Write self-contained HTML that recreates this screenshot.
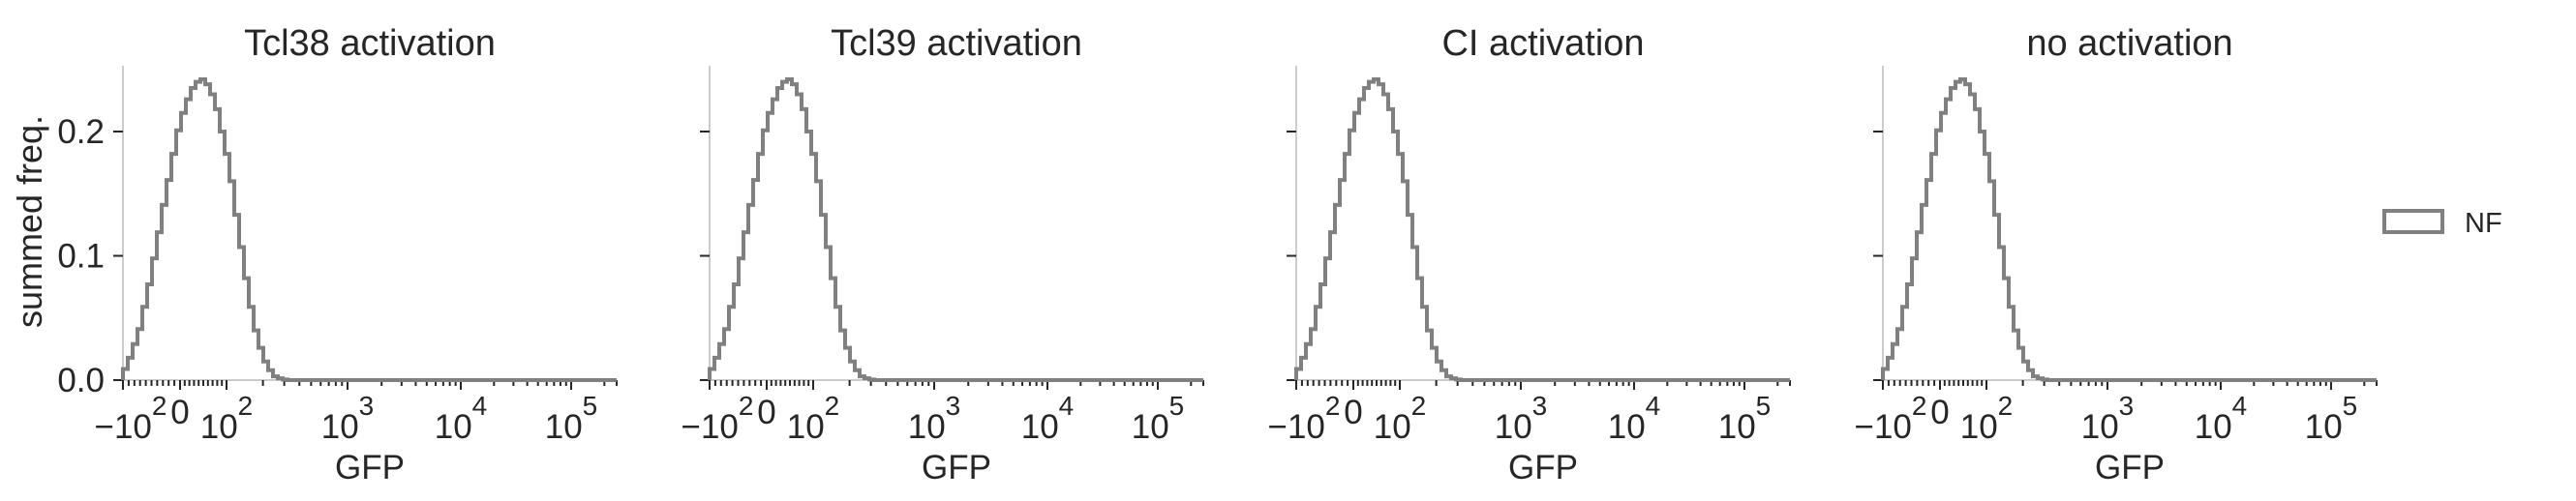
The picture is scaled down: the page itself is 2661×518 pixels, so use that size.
<!DOCTYPE html>
<html><head><meta charset="utf-8"><style>
html,body{margin:0;padding:0;background:#fff;}
svg{display:block;font-family:"Liberation Sans",Arial,sans-serif;}
</style></head><body>
<svg id="chart" width="2661" height="518" viewBox="0 0 2661 518" xmlns="http://www.w3.org/2000/svg"></svg>
<script>
const panelTitles = ["Tcl38 activation","Tcl39 activation","CI activation","no activation"];
const yTicks = [0.0, 0.1, 0.2];
const yTickLabels = ["0.0","0.1","0.2"];
const xMajorTicks = [-100, 0, 100, 1000, 10000, 100000];
const xMajorBase = ["\u221210","0","10","10","10","10"];
const xMajorExp = ["2","","2","3","4","5"];
const freqNF = [0.009,0.018,0.029,0.041,0.059,0.077,0.098,0.119,0.141,0.161,0.182,0.201,0.215,0.226,0.235,0.240,0.242,0.238,0.230,0.218,0.200,0.182,0.160,0.133,0.107,0.082,0.059,0.040,0.026,0.015,0.008,0.003,0.0015,0.0005];
const nBins = 102;
const panelX0 = [127, 733, 1339, 1945];
const PW = 510, Y0 = 393, YTOP = 68, YK = 1285;
const svg = document.getElementById('chart');
const NS = 'http://www.w3.org/2000/svg';
function mk(tag, attrs, parent){const e=document.createElementNS(NS,tag);for(const k in attrs)e.setAttribute(k,attrs[k]);(parent||svg).appendChild(e);return e;}
const knotsP=[107,232,349,463];
function xs(v){
  if(v<=0) return 59 + v*0.59;
  if(v<=100) return v*0.48 + 59;
  const l=Math.log10(v);
  if(l>=5) return 463 + (l-5)*114;
  const i=Math.floor(l)-2;
  return knotsP[i] + (l-Math.floor(l))*(knotsP[i+1]-knotsP[i]);
}
function ys(v){return Y0 - v*YK;}
const minor=[];
for(let v=-90;v<0;v+=10)minor.push(v);
for(let v=10;v<100;v+=10)minor.push(v);
for(let d=100;d<=100000;d*=10)for(let m=2;m<=9;m++){if(d*m<=262144)minor.push(d*m);}
panelTitles.forEach((t,p)=>{
  const x0=panelX0[p];
  const g=mk('g',{});
  
  
  const title=mk('text',{x:x0+PW/2,y:57,'font-size':38,'text-anchor':'middle',fill:'#262626'},g);
  title.textContent=t;
  
  
  const ya=mk('line',{x1:x0,y1:YTOP,x2:x0,y2:Y0,stroke:'#cccccc','stroke-width':2},g);
  
  
  const xa=mk('line',{x1:x0,y1:Y0,x2:x0+PW,y2:Y0,stroke:'#cccccc','stroke-width':2},g);
  
  
  yTicks.forEach((v,i)=>{
    const tk=mk('line',{x1:x0-10,y1:ys(v),x2:x0,y2:ys(v),stroke:'#262626','stroke-width':2},g);
    
    
    if(p===0){
      const tl=mk('text',{x:x0-19,y:ys(v)+12,'font-size':35,'text-anchor':'end',fill:'#262626'},g);
      tl.textContent=yTickLabels[i];
      
      
    }
  });
  minor.forEach(v=>{
    const tk=mk('line',{x1:x0+xs(v),y1:Y0,x2:x0+xs(v),y2:Y0+6,stroke:'#262626','stroke-width':2},g);
    
    
  });
  const endTk=mk('line',{x1:x0+PW,y1:Y0,x2:x0+PW,y2:Y0+6,stroke:'#262626','stroke-width':2},g);
  
  
  xMajorTicks.forEach((v,i)=>{
    const px=x0+xs(v);
    const tk=mk('line',{x1:px,y1:Y0,x2:px,y2:Y0+10,stroke:'#262626','stroke-width':2},g);
    
    
    const tl=mk('text',{x:px,y:453,'font-size':35,'text-anchor':'middle',fill:'#262626'},g);
    
    
    const b=document.createElementNS(NS,'tspan');b.textContent=xMajorBase[i];tl.appendChild(b);
    if(xMajorExp[i]){const e=document.createElementNS(NS,'tspan');e.setAttribute('dy','-24');e.setAttribute('font-size','28');e.textContent=xMajorExp[i];tl.appendChild(e);}
    if(v===0){tl.setAttribute('y','438');}
    if(v===-100){tl.setAttribute('x',px+8);}
  });
  const xl=mk('text',{x:x0+PW/2,y:495,'font-size':35,'text-anchor':'middle',fill:'#262626'},g);
  xl.textContent='GFP';
  
  
  let d='M'+x0+' '+Y0;
  for(let i=0;i<nBins;i++){
    const f=i<freqNF.length?freqNF[i]:0;
    const xa_=x0+i*PW/nBins, xb=x0+(i+1)*PW/nBins;
    d+=' L'+xa_.toFixed(2)+' '+ys(f).toFixed(2)+' L'+xb.toFixed(2)+' '+ys(f).toFixed(2);
  }
  d+=' L'+(x0+PW)+' '+Y0;
  const h=mk('path',{d:d,fill:'none',stroke:'#808080','stroke-width':4,'stroke-linejoin':'miter'},g);
  
  
});
const yl=mk('text',{x:0,y:0,'font-size':36,'text-anchor':'middle',fill:'#262626',transform:'translate(43,229) rotate(-90)'});
yl.textContent='summed freq.';


const lg=mk('g',{});


const lb=mk('rect',{x:2463,y:218,width:60,height:22,fill:'#fff',stroke:'#808080','stroke-width':4},lg);


const lt=mk('text',{x:2546,y:240,'font-size':29,fill:'#262626'},lg);
lt.textContent='NF';


</script>
</body></html>
